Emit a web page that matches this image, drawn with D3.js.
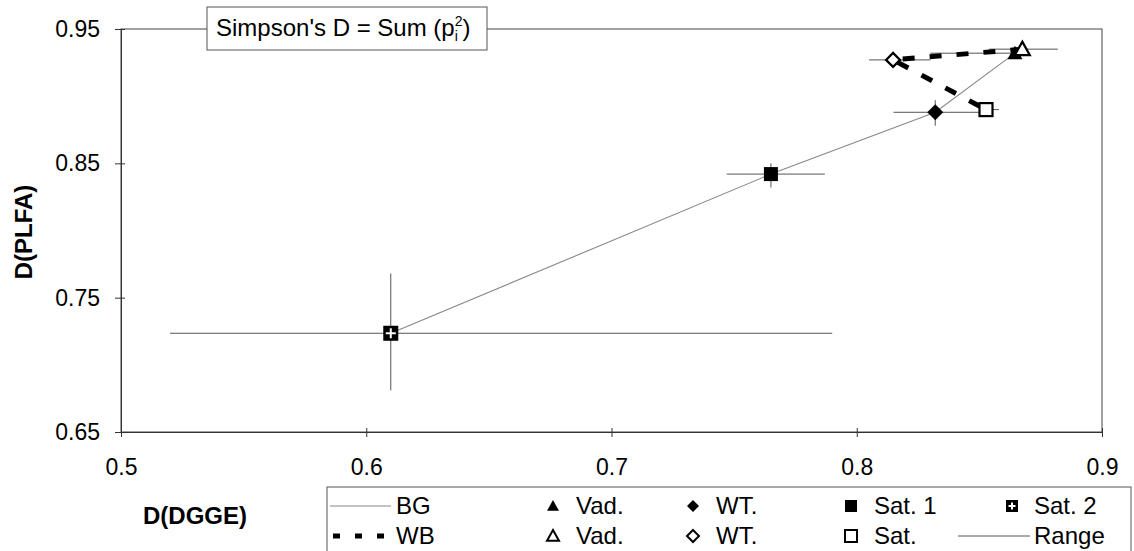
<!DOCTYPE html>
<html><head><meta charset="utf-8">
<script src="https://cdn.jsdelivr.net/npm/d3@7"></script>
<style>body{margin:0;background:#fff}svg{display:block}text{font-family:"Liberation Sans",Arial,sans-serif;fill:#000}</style>
</head><body>
<svg id="c" width="1134" height="551"></svg>
<script>
// ---- data ----
const xTicks = [0.5, 0.6, 0.7, 0.8, 0.9];
const yTicks = [0.65, 0.75, 0.85, 0.95];
// BG series (closed markers)
const bgCats = ["Vad.", "WT.", "Sat. 1", "Sat. 2"];
const bgX = [0.8645, 0.832, 0.765, 0.610];
const bgY = [0.932, 0.888, 0.842, 0.7235];
const bgXlo = [0.830, 0.815, 0.747, 0.520];
const bgXhi = [0.870, 0.850, 0.787, 0.790];
const bgYlo = [0.929, 0.878, 0.832, 0.681];
const bgYhi = [0.935, 0.897, 0.850, 0.768];
// WB series (open markers)
const wbCats = ["Vad.", "WT.", "Sat."];
const wbX = [0.8675, 0.8148, 0.8527];
const wbY = [0.935, 0.927, 0.890];
const wbXlo = [0.854, 0.805, 0.850];
const wbXhi = [0.882, 0.830, 0.858];
const wbYlo = [0.934, 0.926, 0.889];
const wbYhi = [0.936, 0.928, 0.891];
const legendRow1 = ["BG", "Vad.", "WT.", "Sat. 1", "Sat. 2"];
const legendRow2 = ["WB", "Vad.", "WT.", "Sat.", "Range"];

// ---- drawing ----
const svg = d3.select("#c");
const x = d3.scaleLinear().domain([0.5, 0.9]).range([121, 1102]);
const y = d3.scaleLinear().domain([0.65, 0.95]).range([432, 29]);
const FS = 23;

// frame
svg.append("rect").attr("x", x(0.5)).attr("y", y(0.95))
  .attr("width", x(0.9) - x(0.5)).attr("height", y(0.65) - y(0.95))
  .attr("fill", "none").attr("stroke", "#444").attr("stroke-width", 1);

// axes
function styleAxis(g){ g.select(".domain").attr("stroke","#333"); g.selectAll(".tick line").attr("stroke","#333"); }
const yAx = svg.append("g").attr("transform", `translate(${x(0.5)},0)`)
  .call(d3.axisLeft(y).tickValues(yTicks).tickSize(6).tickPadding(15).tickFormat(d3.format(".2f")));
yAx.selectAll("text").attr("font-size", FS).attr("font-family", "Liberation Sans, Arial, sans-serif");
styleAxis(yAx);
svg.append("g").attr("transform", `translate(${x(0.5)},0)`)
  .call(d3.axisRight(y).tickValues(yTicks).tickSize(4).tickFormat(""))
  .call(g => { g.select(".domain").remove(); g.selectAll("line").attr("stroke","#333"); });
const xAx = svg.append("g").attr("transform", `translate(0,${y(0.65)})`)
  .call(d3.axisBottom(x).tickValues(xTicks).tickSize(5).tickPadding(22).tickFormat(d3.format(".1f")));
xAx.selectAll("text").attr("font-size", FS).attr("font-family", "Liberation Sans, Arial, sans-serif");
styleAxis(xAx);
svg.append("g").attr("transform", `translate(0,${y(0.65)})`)
  .call(d3.axisTop(x).tickValues(xTicks).tickSize(4).tickFormat(""))
  .call(g => { g.select(".domain").remove(); g.selectAll("line").attr("stroke","#333"); });

// axis titles
svg.append("text").attr("transform", "translate(32,232) rotate(-90)")
  .attr("text-anchor", "middle").attr("font-size", 24).attr("font-weight", "bold").text("D(PLFA)");
svg.append("text").attr("x", 195).attr("y", 524)
  .attr("text-anchor", "middle").attr("font-size", 24).attr("font-weight", "bold").text("D(DGGE)");

// range lines
const rangeG = svg.append("g").attr("stroke", "#555").attr("stroke-width", 1);
function ranges(X, Y, xlo, xhi, ylo, yhi){
  X.forEach((v, i) => {
    rangeG.append("line").attr("x1", x(xlo[i])).attr("x2", x(xhi[i])).attr("y1", y(Y[i])).attr("y2", y(Y[i]));
    rangeG.append("line").attr("x1", x(v)).attr("x2", x(v)).attr("y1", y(ylo[i])).attr("y2", y(yhi[i]));
  });
}
ranges(bgX, bgY, bgXlo, bgXhi, bgYlo, bgYhi);
ranges(wbX, wbY, wbXlo, wbXhi, wbYlo, wbYhi);

// series lines
const line = d3.line().x(d => x(d[0])).y(d => y(d[1]));
svg.append("path").attr("d", line(bgX.map((v, i) => [v, bgY[i]])))
  .attr("fill", "none").attr("stroke", "#888").attr("stroke-width", 1.1);
svg.append("path").attr("d", line(wbX.map((v, i) => [v, wbY[i]])))
  .attr("fill", "none").attr("stroke", "#000").attr("stroke-width", 5).attr("stroke-dasharray", "12,15");

// markers
function marker(g, kind, cx, cy, s){
  const h = s / 2;
  if (kind === "tri"){
    return g.append("path").attr("d", `M${cx},${cy - h} L${cx + h},${cy + h * 0.8} L${cx - h},${cy + h * 0.8} Z`);
  } else if (kind === "dia"){
    return g.append("path").attr("d", `M${cx},${cy - h} L${cx + h},${cy} L${cx},${cy + h} L${cx - h},${cy} Z`);
  } else if (kind === "sq"){
    return g.append("rect").attr("x", cx - h).attr("y", cy - h).attr("width", s).attr("height", s);
  } else if (kind === "chk"){
    g.append("rect").attr("x", cx - h).attr("y", cy - h).attr("width", s).attr("height", s).attr("fill", "#000");
    g.append("rect").attr("x", cx - h + 2.5).attr("y", cy - 1).attr("width", s - 5).attr("height", 2).attr("fill", "#fff");
    return g.append("rect").attr("x", cx - 1).attr("y", cy - h + 2.5).attr("width", 2).attr("height", s - 5).attr("fill", "#fff");
  }
}
const bgKinds = ["tri", "dia", "sq", "chk"];
const bgSizes = [15, 16, 14, 15];
const wbKinds = ["tri", "dia", "sq"];
const wbSizes = [15, 14, 13];
const mg = svg.append("g");
bgX.forEach((v, i) => {
  const m = marker(mg, bgKinds[i], x(v), y(bgY[i]), bgSizes[i]);
  if (bgKinds[i] !== "chk") m.attr("fill", "#000");
});
wbX.forEach((v, i) => {
  marker(mg, wbKinds[i], x(v), y(wbY[i]), wbSizes[i]).attr("fill", "#fff").attr("stroke", "#000").attr("stroke-width", 2.2);
});

// title box
const tb = svg.append("g");
tb.append("rect").attr("x", 207).attr("y", 7).attr("width", 280).attr("height", 43)
  .attr("fill", "#fff").attr("stroke", "#555").attr("stroke-width", 1);
const tt = tb.append("text").attr("x", 216).attr("y", 36).attr("font-size", 24);
tt.append("tspan").text("Simpson's D = Sum (p");
tt.append("tspan").attr("font-size", 14).attr("dy", 5).text("i");
tt.append("tspan").attr("font-size", 14).attr("dx", -3).attr("dy", -15).text("2");
tt.append("tspan").attr("dy", 10).text(")");

// legend
const lg = svg.append("g");
lg.append("rect").attr("x", 327).attr("y", 487).attr("width", 804).attr("height", 80)
  .attr("fill", "#fff").attr("stroke", "#555").attr("stroke-width", 1);
const rowY = [506, 536];
const symX = [0, 553, 693, 851, 1012];
const txtX = [396, 576, 716, 874, 1034];
const kinds1 = ["line", "tri", "dia", "sq", "chk"];
const kinds2 = ["dash", "tri", "dia", "sq", "range"];
function legendRow(labels, kinds, ry, filled){
  labels.forEach((lab, i) => {
    const k = kinds[i];
    if (k === "line") lg.append("line").attr("x1", 330).attr("x2", 391).attr("y1", ry).attr("y2", ry).attr("stroke", "#888").attr("stroke-width", 1.1);
    else if (k === "dash") lg.append("line").attr("x1", 333).attr("x2", 391).attr("y1", ry).attr("y2", ry).attr("stroke", "#000").attr("stroke-width", 5).attr("stroke-dasharray", "7,15");
    else if (k === "range") lg.append("line").attr("x1", 958).attr("x2", 1030).attr("y1", ry).attr("y2", ry).attr("stroke", "#555").attr("stroke-width", 1);
    else {
      const m = marker(lg, k, symX[i], ry, 12);
      if (k !== "chk"){ if (filled) m.attr("fill", "#000"); else m.attr("fill", "#fff").attr("stroke", "#000").attr("stroke-width", 2); }
    }
    lg.append("text").attr("x", txtX[i]).attr("y", ry + 8).attr("font-size", 24).text(lab);
  });
}
legendRow(legendRow1, kinds1, rowY[0], true);
legendRow(legendRow2, kinds2, rowY[1], false);
</script>
</body></html>
